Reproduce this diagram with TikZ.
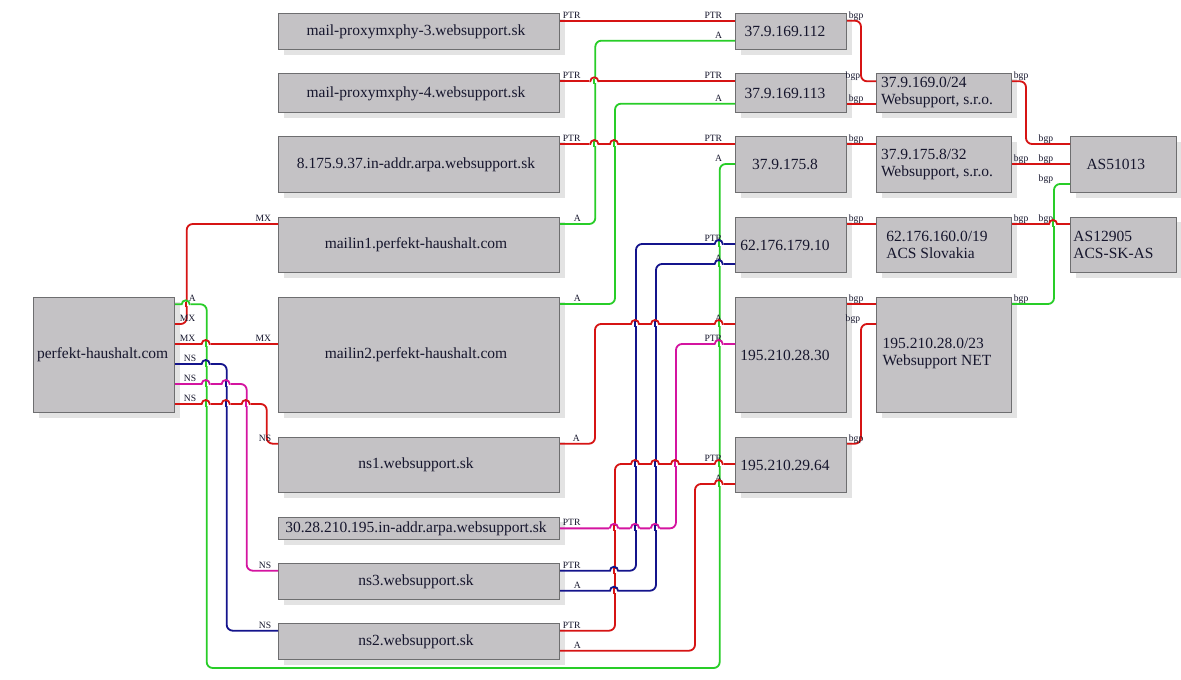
\documentclass[tikz,border=0pt]{standalone}
\usepackage{fontspec}
\setmainfont{Liberation Serif}
\usetikzlibrary{shadows}
\definecolor{boxfill}{RGB}{196,194,197}
\definecolor{boxline}{RGB}{110,110,112}
\definecolor{txt}{RGB}{22,22,45}
\definecolor{cred}{RGB}{214,20,20}
\definecolor{cgrn}{RGB}{40,205,40}
\definecolor{cblu}{RGB}{20,20,140}
\definecolor{cmag}{RGB}{212,20,160}
\newcommand\hop[4]{%
  \fill[white] (#1-5,#2-2.1) rectangle (#1+5,#2+2.1);
  \draw[#4, line width=1.8pt] (#1,#2-2.8) -- (#1,#2+2.8);
  \draw[#3, line width=1.8pt] (#1-5,#2) -- (#1-4,#2) arc[start angle=180,end angle=0,radius=4pt] -- (#1+5,#2);
}
\begin{document}
\begin{tikzpicture}[x=1pt,y=-1pt,
  box/.style={draw=boxline, line width=1pt, fill=boxfill, anchor=north west, inner sep=0pt,
    general shadow={fill=black!11, shadow xshift=5pt, shadow yshift=-5pt}},
  boxtxt/.style={text=txt, font=\fontsize{15.5}{17}\selectfont, align=left, inner sep=0pt},
  ln/.style={line width=1.8pt, rounded corners=6pt},
  lab/.style={text=txt, font=\fontsize{9.6}{10}\selectfont, inner sep=0pt, yshift=2.5pt},
  src/.style={lab, anchor=base west},
  tgt/.style={lab, anchor=base east},
]
\useasboundingbox[fill=white] (0,0) rectangle (1181,680);

% ---------- boxes ----------
\node[box, minimum width=140.7pt, minimum height=115.6pt] (perf) at (33.3,296.7) {};
\node[box, minimum width=281pt, minimum height=36pt]    (p3)   at (278,13.3) {};
\node[box, minimum width=281pt, minimum height=39pt]    (p4)   at (278,73.3) {};
\node[box, minimum width=281pt, minimum height=56pt]    (rev8) at (278,136.3) {};
\node[box, minimum width=281pt, minimum height=55.6pt]  (m1)   at (278,216.7) {};
\node[box, minimum width=281pt, minimum height=115.6pt] (m2)   at (278,296.7) {};
\node[box, minimum width=281pt, minimum height=55.6pt]  (ns1)  at (278,436.7) {};
\node[box, minimum width=281pt, minimum height=22.3pt]  (rev30) at (278,516.7) {};
\node[box, minimum width=281pt, minimum height=36pt]    (ns3)  at (278,563.3) {};
\node[box, minimum width=281pt, minimum height=36pt]    (ns2)  at (278,623.3) {};

\node[box, minimum width=111pt, minimum height=36pt]    (i112)   at (735,13.3) {};
\node[box, minimum width=111pt, minimum height=39pt]    (i113)   at (735,73.3) {};
\node[box, minimum width=111pt, minimum height=56pt]    (i1758)  at (735,136.3) {};
\node[box, minimum width=111pt, minimum height=55.6pt]  (i17910) at (735,216.7) {};
\node[box, minimum width=111pt, minimum height=115.6pt] (i2830)  at (735,296.7) {};
\node[box, minimum width=111pt, minimum height=55.6pt]  (i2964)  at (735,436.7) {};

\node[box, minimum width=135pt, minimum height=39pt]    (n169) at (876,73.3) {};
\node[box, minimum width=135pt, minimum height=56pt]    (n175) at (876,136.3) {};
\node[box, minimum width=135pt, minimum height=55.6pt]  (n176) at (876,216.7) {};
\node[box, minimum width=135pt, minimum height=115.6pt] (n195) at (876,296.7) {};

\node[box, minimum width=106pt, minimum height=56pt]    (as51)  at (1070,136.3) {};
\node[box, minimum width=106pt, minimum height=55.6pt]  (as129) at (1070,216.7) {};

% ---------- box texts ----------
\node[boxtxt] (perft) at ([xshift=-1.5pt]perf.center) {perfekt-haushalt.com};
\node[boxtxt] (p3t)   at ([xshift=-3pt]p3.center) {mail-proxymxphy-3.websupport.sk};
\node[boxtxt] (p4t)   at ([xshift=-3pt]p4.center) {mail-proxymxphy-4.websupport.sk};
\node[boxtxt] (rev8t) at ([xshift=-3pt]rev8.center) {8.175.9.37.in-addr.arpa.websupport.sk};
\node[boxtxt] (m1t)   at ([xshift=-3pt]m1.center) {mailin1.perfekt-haushalt.com};
\node[boxtxt] (m2t)   at ([xshift=-3pt]m2.center) {mailin2.perfekt-haushalt.com};
\node[boxtxt] (ns1t)  at ([xshift=-3pt]ns1.center) {ns1.websupport.sk};
\node[boxtxt] (rev30t) at ([xshift=-3pt]rev30.center) {30.28.210.195.in-addr.arpa.websupport.sk};
\node[boxtxt] (ns3t)  at ([xshift=-3pt]ns3.center) {ns3.websupport.sk};
\node[boxtxt] (ns2t)  at ([xshift=-3pt]ns2.center) {ns2.websupport.sk};

\node[boxtxt] (i112t)   at ([xshift=-6pt]i112.center) {37.9.169.112};
\node[boxtxt] (i113t)   at ([xshift=-6pt]i113.center) {37.9.169.113};
\node[boxtxt] (i1758t)  at ([xshift=-6pt]i1758.center) {37.9.175.8};
\node[boxtxt] (i17910t) at ([xshift=-6pt]i17910.center) {62.176.179.10};
\node[boxtxt] (i2830t)  at ([xshift=-6pt]i2830.center) {195.210.28.30};
\node[boxtxt] (i2964t)  at ([xshift=-6pt]i2964.center) {195.210.29.64};

\node[boxtxt] (n169t) at ([xshift=-7pt,yshift=1pt]n169.center) {37.9.169.0/24\\Websupport, s.r.o.};
\node[boxtxt] (n175t) at ([xshift=-7pt]n175.center) {37.9.175.8/32\\Websupport, s.r.o.};
\node[boxtxt] (n176t) at ([xshift=-7pt]n176.center) {62.176.160.0/19\\ACS Slovakia};
\node[boxtxt] (n195t) at ([xshift=-7pt,yshift=1.5pt]n195.center) {195.210.28.0/23\\Websupport NET};

\node[boxtxt] (as51t)  at ([xshift=-7.7pt]as51.center) {AS51013};
\node[boxtxt] (as129t) at ([xshift=-10pt]as129.center) {AS12905\\ACS-SK-AS};

% ---------- DNS edges ----------
\draw[ln,cred] ([yshift=-7.4pt]p3.north east) node[src,xshift=2pt] (l1s) {PTR}
  -- ([yshift=-7.4pt]i112.north west) node[tgt,xshift=-12pt] (l1t) {PTR};
\draw[ln,cgrn] ([yshift=-7.3pt]m1.north east) node[src,xshift=13pt] (l2s) {A}
  -- ++(35.3,0) |- ([yshift=-27.4pt]i112.north west) node[tgt,xshift=-12pt] (l2t) {A};
\draw[ln,cred] ([yshift=-8pt]p4.north east) node[src,xshift=2pt] (l3s) {PTR}
  -- ([yshift=-8pt]i113.north west) node[tgt,xshift=-12pt] (l3t) {PTR};
\draw[ln,cgrn] ([yshift=-7.3pt]m2.north east) node[src,xshift=13pt] (l4s) {A}
  -- ++(55,0) |- ([yshift=-30.4pt]i113.north west) node[tgt,xshift=-12pt] (l4t) {A};
\draw[ln,cred] ([yshift=-7.7pt]rev8.north east) node[src,xshift=2pt] (l5s) {PTR}
  -- ([yshift=-7.7pt]i1758.north west) node[tgt,xshift=-12pt] (l5t) {PTR};
\draw[ln,cgrn] ([yshift=-7.6pt]perf.north east) node[src,xshift=13pt] (l6s) {A}
  -- ++(31.7,0) -- ++(0,363.7) -- ++(513,0) |- ([yshift=-27.7pt]i1758.north west) node[tgt,xshift=-12pt] (l6t) {A};
\draw[ln,cred] ([yshift=-27.3pt]perf.north east) node[src,xshift=4pt] (l7s) {MX}
  -- ++(11.7,0) |- ([yshift=-7.3pt]m1.north west) node[tgt,xshift=-6pt] (l7t) {MX};
\draw[ln,cred] ([yshift=-47.3pt]perf.north east) node[src,xshift=4pt] (l8s) {MX}
  -- ([yshift=-47.3pt]m2.north west) node[tgt,xshift=-6pt] (l8t) {MX};
\draw[ln,cblu] ([yshift=-67.3pt]perf.north east) node[src,xshift=8pt] (l9s) {NS}
  -- ++(51.7,0) |- ([yshift=-7.4pt]ns2.north west) node[tgt,xshift=-6pt] (l9t) {NS};
\draw[ln,cmag] ([yshift=-87.3pt]perf.north east) node[src,xshift=8pt] (l10s) {NS}
  -- ++(71.7,0) |- ([yshift=-7.4pt]ns3.north west) node[tgt,xshift=-6pt] (l10t) {NS};
\draw[ln,cred] ([yshift=-107.3pt]perf.north east) node[src,xshift=8pt] (l11s) {NS}
  -- ++(91.7,0) |- ([yshift=-7pt]ns1.north west) node[tgt,xshift=-6pt] (l11t) {NS};
\draw[ln,cred] ([yshift=-7pt]ns1.north east) node[src,xshift=12pt] (l12s) {A}
  -- ++(35,0) |- ([yshift=-27.3pt]i2830.north west) node[tgt,xshift=-12pt] (l12t) {A};
\draw[ln,cblu] ([yshift=-7.4pt]ns3.north east) node[src,xshift=2pt] (l13s) {PTR}
  -- ++(76,0) |- ([yshift=-27.3pt]i17910.north west) node[tgt,xshift=-12pt] (l13t) {PTR};
\draw[ln,cblu] ([yshift=-27.4pt]ns3.north east) node[src,xshift=13pt] (l14s) {A}
  -- ++(96,0) |- ([yshift=-47.3pt]i17910.north west) node[tgt,xshift=-12pt] (l14t) {A};
\draw[ln,cmag] (rev30.east) node[src,xshift=2pt] (l15s) {PTR}
  -- ++(116,0) |- ([yshift=-47.3pt]i2830.north west) node[tgt,xshift=-12pt] (l15t) {PTR};
\draw[ln,cred] ([yshift=-7.4pt]ns2.north east) node[src,xshift=2pt] (l16s) {PTR}
  -- ++(55,0) |- ([yshift=-27.3pt]i2964.north west) node[tgt,xshift=-12pt] (l16t) {PTR};
\draw[ln,cred] ([yshift=-27.4pt]ns2.north east) node[src,xshift=13pt] (l17s) {A}
  -- ++(135,0) |- ([yshift=-47.3pt]i2964.north west) node[tgt,xshift=-12pt] (l17t) {A};

% ---------- BGP edges ----------
\draw[ln,cred] ([yshift=-7.4pt]i112.north east) node[src,xshift=1pt] (b1s) {bgp}
  -- ++(14,0) |- ([yshift=-8pt]n169.north west) node[tgt,xshift=-15pt] (b1t) {bgp};
\draw[ln,cred] ([yshift=-30.4pt]i113.north east) node[src,xshift=1pt] (b2s) {bgp}
  -- ([yshift=-30.4pt]n169.north west);
\draw[ln,cred] ([yshift=-8pt]n169.north east) node[src,xshift=1pt] (b3s) {bgp}
  -- ++(14,0) |- ([yshift=-7.7pt]as51.north west) node[tgt,xshift=-16pt] (b3t) {bgp};
\draw[ln,cred] ([yshift=-7.7pt]i1758.north east) node[src,xshift=1pt] (b4s) {bgp}
  -- ([yshift=-7.7pt]n175.north west);
\draw[ln,cred] ([yshift=-27.7pt]n175.north east) node[src,xshift=1pt] (b5s) {bgp}
  -- ([yshift=-27.7pt]as51.north west) node[tgt,xshift=-16pt] (b5t) {bgp};
\draw[ln,cred] ([yshift=-7.3pt]i17910.north east) node[src,xshift=1pt] (b6s) {bgp}
  -- ([yshift=-7.3pt]n176.north west);
\draw[ln,cred] ([yshift=-7.3pt]n176.north east) node[src,xshift=1pt] (b7s) {bgp}
  -- ([yshift=-7.3pt]as129.north west) node[tgt,xshift=-16pt] (b7t) {bgp};
\draw[ln,cgrn] ([yshift=-7.3pt]n195.north east) node[src,xshift=1pt] (b8s) {bgp}
  -- ++(42,0) |- ([yshift=-47.7pt]as51.north west) node[tgt,xshift=-16pt] (b8t) {bgp};
\draw[ln,cred] ([yshift=-7.3pt]i2830.north east) node[src,xshift=1pt] (b9s) {bgp}
  -- ([yshift=-7.3pt]n195.north west);
\draw[ln,cred] ([yshift=-7pt]i2964.north east) node[src,xshift=1pt] (b10s) {bgp}
  -- ++(14,0) |- ([yshift=-27.3pt]n195.north west) node[tgt,xshift=-15pt] (b10t) {bgp};

% ---------- line hops ----------
\hop{594.3}{81.3}{cred}{cgrn}
\hop{594.3}{144}{cred}{cgrn}
\hop{614}{144}{cred}{cgrn}
\hop{185.7}{304.3}{cgrn}{cred}
\hop{205.7}{344}{cred}{cgrn}
\hop{205.7}{364}{cblu}{cgrn}
\hop{205.7}{384}{cmag}{cgrn}
\hop{225.7}{384}{cmag}{cblu}
\hop{205.7}{404}{cred}{cgrn}
\hop{225.7}{404}{cred}{cblu}
\hop{245.7}{404}{cred}{cmag}
\hop{635}{324}{cred}{cblu}
\hop{655}{324}{cred}{cblu}
\hop{718.7}{324}{cred}{cgrn}
\hop{614}{570.7}{cblu}{cred}
\hop{718.7}{244}{cblu}{cgrn}
\hop{614}{590.7}{cblu}{cred}
\hop{718.7}{264}{cblu}{cgrn}
\hop{614}{527.8}{cmag}{cred}
\hop{635}{527.8}{cmag}{cblu}
\hop{655}{527.8}{cmag}{cblu}
\hop{718.7}{344}{cmag}{cgrn}
\hop{635}{464}{cred}{cblu}
\hop{655}{464}{cred}{cblu}
\hop{675}{464}{cred}{cmag}
\hop{718.7}{464}{cred}{cgrn}
\hop{718.7}{484}{cred}{cgrn}
\hop{1053}{224}{cred}{cgrn}
\end{tikzpicture}
\end{document}
